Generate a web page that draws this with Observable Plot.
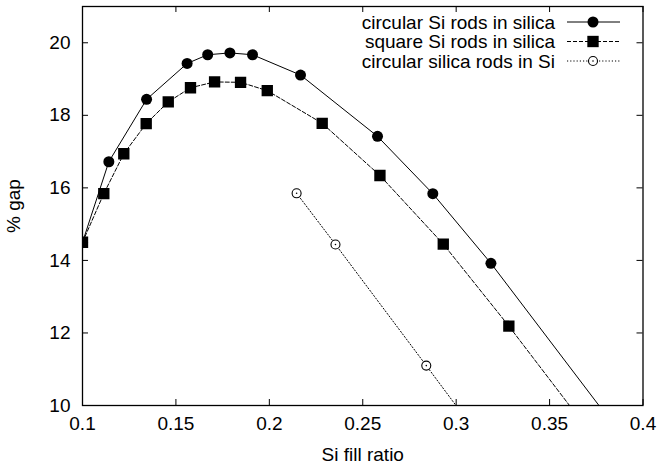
<!DOCTYPE html>
<html><head><meta charset="utf-8">
<script src="https://cdn.jsdelivr.net/npm/d3@7"></script>
<script src="https://cdn.jsdelivr.net/npm/@observablehq/plot@0.6"></script>
<style>
body{margin:0;background:#fff;font-family:"Liberation Sans",Arial,Helvetica,sans-serif}
#wrap{position:relative;width:660px;height:467px}
#legend{position:absolute;left:0;top:0;pointer-events:none}
</style></head><body><div id="wrap"></div>
<script>
// ---- data ----
const xTicks = [0.1, 0.15, 0.2, 0.25, 0.3, 0.35, 0.4];
const yTicks = [10, 12, 14, 16, 18, 20];
const seriesNames = ["circular Si rods in silica", "square Si rods in silica", "circular silica rods in Si"];
const circX = [0.1, 0.1141, 0.1343, 0.156, 0.167, 0.1789, 0.191, 0.2167, 0.2579, 0.2875, 0.3186, 0.3875];
const circY = [14.5, 16.72, 18.44, 19.43, 19.67, 19.72, 19.67, 19.11, 17.42, 15.84, 13.92, 9.25];
const sqX = [0.1, 0.1114, 0.1221, 0.1341, 0.1459, 0.1578, 0.1707, 0.1846, 0.1989, 0.2283, 0.2592, 0.2931, 0.3282, 0.37];
const sqY = [14.5, 15.84, 16.94, 17.77, 18.37, 18.76, 18.92, 18.91, 18.68, 17.78, 16.34, 14.45, 12.19, 9.37];
const openX = [0.2146, 0.2354, 0.284, 0.31];
const openY = [15.85, 14.44, 11.10, 9.3];

const toRows = (xs, ys) => xs.map((x, i) => ({x, y: ys[i]}));
const circ = toRows(circX, circY), sq = toRows(sqX, sqY), open = toRows(openX, openY);

// ---- layout ----
const W = 660, H = 467, mL = 82, mR = 17.5, mT = 6, mB = 62;
const iw = W - mL - mR, ih = H - mT - mB, T = 6;
const FS = "19px";
const FF = '"Liberation Sans",Arial,sans-serif';
const styles = [
  {dash: null, symbol: "circle", fill: "#000", r: 5.5},
  {dash: "4,2", symbol: "square", fill: "#000", r: 6.4},
  {dash: "1.2,2", symbol: "circle", fill: "none", r: 4.5}
];

const chart = Plot.plot({
  width: W, height: H, marginLeft: mL, marginRight: mR, marginTop: mT, marginBottom: mB,
  style: {fontFamily: FF, fontSize: FS, background: "#fff", color: "#000"},
  x: {domain: [0.1, 0.4]},
  y: {domain: [10, 21]},
  marks: [
    Plot.axisX(xTicks, {tickSize: 0, tickPadding: 11, tickFormat: d => String(d), fontSize: FS,
      label: "Si fill ratio", labelAnchor: "center", labelOffset: 55, labelArrow: "none"}),
    Plot.axisY(yTicks, {tickSize: 0, tickPadding: 12, fontSize: FS,
      label: "% gap", labelAnchor: "center", labelOffset: 76, labelArrow: "none"}),
    Plot.tickX(xTicks, {x: d => d, insetTop: ih - T, stroke: "#000"}),
    Plot.tickX(xTicks, {x: d => d, insetBottom: ih - T, stroke: "#000"}),
    Plot.tickY(yTicks, {y: d => d, insetRight: iw - T, stroke: "#000"}),
    Plot.tickY(yTicks, {y: d => d, insetLeft: iw - T, stroke: "#000"}),
    Plot.line(circ, {x: "x", y: "y", stroke: "#000", strokeWidth: 1, clip: true}),
    Plot.dot(circ, {x: "x", y: "y", r: styles[0].r, fill: "#000", symbol: "circle", clip: true}),
    Plot.line(sq, {x: "x", y: "y", stroke: "#000", strokeWidth: 1, strokeDasharray: styles[1].dash, clip: true}),
    Plot.dot(sq, {x: "x", y: "y", r: styles[1].r, fill: "#000", symbol: "square", clip: true}),
    Plot.line(open, {x: "x", y: "y", stroke: "#000", strokeWidth: 1, strokeDasharray: styles[2].dash, clip: true}),
    Plot.dot(open, {x: "x", y: "y", r: styles[2].r, fill: "#fff", stroke: "#000", strokeWidth: 1.1, symbol: "circle", clip: true}),
    Plot.dot(open, {x: "x", y: "y", r: 0.8, fill: "#000", clip: true}),
    Plot.frame({stroke: "#000", strokeWidth: 1.3})
  ]
});
const wrap = document.getElementById("wrap");
wrap.appendChild(chart);

// ---- legend overlay ----
const rowY = [22, 41.5, 61];
const textRight = 555, swL = 567, swR = 620, swC = 593;
const leg = d3.select(wrap).append("svg").attr("id", "legend").attr("width", W).attr("height", 90);
seriesNames.forEach((name, i) => {
  const s = styles[i], y = rowY[i];
  leg.append("text").attr("x", textRight).attr("y", y).attr("dy", "0.36em")
    .attr("text-anchor", "end").attr("font-size", FS).attr("font-family", FF).text(name);
  leg.append("line").attr("x1", swL).attr("x2", swR).attr("y1", y).attr("y2", y)
    .attr("stroke", "#000").attr("stroke-width", 1).attr("stroke-dasharray", s.dash);
  if (s.symbol === "square") {
    const side = s.r * Math.sqrt(Math.PI);
    leg.append("rect").attr("x", swC - side / 2).attr("y", y - side / 2).attr("width", side).attr("height", side).attr("fill", "#000");
  } else if (s.fill === "none") {
    leg.append("circle").attr("cx", swC).attr("cy", y).attr("r", s.r).attr("fill", "#fff").attr("stroke", "#000").attr("stroke-width", 1.1);
    leg.append("circle").attr("cx", swC).attr("cy", y).attr("r", 0.8).attr("fill", "#000");
  } else {
    leg.append("circle").attr("cx", swC).attr("cy", y).attr("r", s.r).attr("fill", "#000");
  }
});
</script>
</body></html>
